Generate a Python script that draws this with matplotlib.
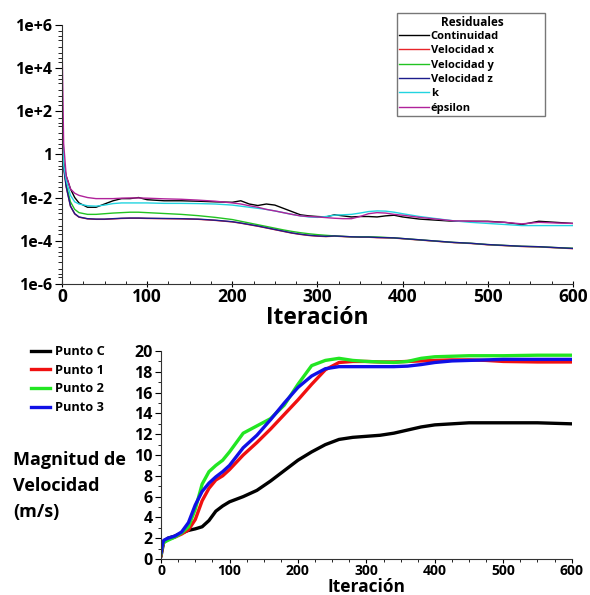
import numpy as np
import matplotlib
matplotlib.use("Agg")
import matplotlib.pyplot as plt
from matplotlib.patches import Rectangle
from matplotlib.ticker import FixedLocator, FixedFormatter, MultipleLocator, NullFormatter

plt.rcParams['font.family'] = ['Open Sans', 'DejaVu Sans']
plt.rcParams['font.weight'] = 'bold'

# ---- residuals (log10 of value) ----
res_iter = [0, 2, 5, 10, 15, 20, 30, 40, 50, 60, 70, 80, 90, 100, 120, 140, 160, 180,
            200, 210, 220, 230, 240, 250, 260, 270, 280, 290, 300, 310, 320, 330, 340,
            350, 360, 370, 380, 390, 400, 420, 440, 460, 480, 500, 520, 540, 560, 580, 600]

continuidad = [1.0, -0.4, -1.0, -1.6, -2.0, -2.25, -2.45, -2.45, -2.3, -2.15, -2.05, -2.05, -2.0,
               -2.1, -2.15, -2.15, -2.17, -2.2, -2.22, -2.15, -2.3, -2.37, -2.3, -2.35, -2.5,
               -2.65, -2.8, -2.85, -2.88, -2.9, -2.8, -2.85, -2.9, -2.88, -2.88, -2.9, -2.85,
               -2.82, -2.9, -3.0, -3.05, -3.1, -3.1, -3.1, -3.15, -3.25, -3.1, -3.15, -3.2]
velocidad_x = [1.5, -0.6, -1.5, -2.4, -2.76, -2.91, -2.99, -3.01, -3.01, -2.99, -2.97, -2.96,
               -2.96, -2.97, -2.98, -2.99, -3.01, -3.06, -3.13, -3.19, -3.26, -3.33, -3.41,
               -3.49, -3.57, -3.65, -3.71, -3.76, -3.79, -3.81, -3.79, -3.81, -3.83, -3.84,
               -3.84, -3.86, -3.87, -3.88, -3.91, -3.97, -4.03, -4.09, -4.13, -4.19, -4.23,
               -4.27, -4.29, -4.33, -4.37]
velocidad_y = [0.6, -0.5, -1.4, -2.2, -2.55, -2.7, -2.78, -2.78, -2.75, -2.72, -2.7, -2.68,
               -2.68, -2.7, -2.74, -2.78, -2.84, -2.92, -3.02, -3.1, -3.18, -3.26, -3.34,
               -3.42, -3.5, -3.57, -3.63, -3.68, -3.72, -3.75, -3.78, -3.8, -3.82, -3.82,
               -3.82, -3.83, -3.85, -3.87, -3.9, -3.96, -4.02, -4.08, -4.12, -4.18, -4.22,
               -4.26, -4.28, -4.32, -4.35]
velocidad_z = [0.5, -0.6, -1.5, -2.4, -2.75, -2.9, -2.98, -3.0, -3.0, -2.98, -2.96, -2.95,
               -2.95, -2.96, -2.97, -2.98, -3.0, -3.05, -3.12, -3.18, -3.25, -3.32, -3.4,
               -3.48, -3.56, -3.64, -3.7, -3.75, -3.78, -3.8, -3.78, -3.8, -3.82, -3.83,
               -3.83, -3.85, -3.86, -3.87, -3.9, -3.96, -4.02, -4.08, -4.12, -4.18, -4.22,
               -4.26, -4.28, -4.32, -4.36]
k_res = [2.0, -0.5, -1.2, -1.9, -2.2, -2.3, -2.38, -2.4, -2.35, -2.28, -2.25, -2.25, -2.25,
         -2.25, -2.27, -2.27, -2.28, -2.3, -2.35, -2.4, -2.45, -2.5, -2.55, -2.62, -2.7,
         -2.78, -2.85, -2.9, -2.92, -2.88, -2.82, -2.8, -2.78, -2.72, -2.65, -2.62, -2.63,
         -2.68, -2.75, -2.88, -2.98, -3.08, -3.15, -3.2, -3.25, -3.3, -3.3, -3.3, -3.3]
epsilon = [5.4, 0.5, -1.0, -1.6, -1.8, -1.9, -2.0, -2.05, -2.05, -2.05, -2.03, -2.02, -2.02,
           -2.03, -2.06, -2.08, -2.12, -2.17, -2.25, -2.3, -2.38, -2.45, -2.55, -2.62, -2.7,
           -2.78, -2.85, -2.88, -2.9, -2.93, -2.96, -2.98, -2.98, -2.88, -2.75, -2.7, -2.72,
           -2.78, -2.82, -2.92, -3.0, -3.08, -3.1, -3.12, -3.15, -3.22, -3.15, -3.18, -3.2]

res_names = ['Continuidad', 'Velocidad x', 'Velocidad y', 'Velocidad z', 'k', 'épsilon']
res_colors = ['#000000', '#e8242a', '#22c322', '#1c1c8c', '#22d4e0', '#b0229a']

log_ticks = [1e-6, 1e-4, 1e-2, 1, 1e2, 1e4, 1e6]
log_labels = ['1e-6', '1e-4', '1e-2', '1', '1e+2', '1e+4', '1e+6']

# ---- velocity magnitude ----
vel_iter = [0, 2, 4, 10, 20, 30, 40, 50, 60, 70, 80, 90, 100, 120, 140, 160, 180, 200, 220,
            240, 260, 280, 300, 320, 340, 360, 380, 400, 425, 450, 475, 500, 550, 600]
punto_c = [0.3, 1.0, 1.7, 2.0, 2.2, 2.5, 2.75, 2.9, 3.1, 3.7, 4.6, 5.1, 5.5, 6.0, 6.6, 7.5,
           8.5, 9.5, 10.3, 11.0, 11.5, 11.7, 11.8, 11.9, 12.1, 12.4, 12.7, 12.9, 13.0, 13.1,
           13.1, 13.1, 13.1, 13.0]
punto_1 = [0.4, 1.2, 1.6, 1.9, 2.1, 2.4, 2.8, 3.8, 5.6, 6.8, 7.6, 8.0, 8.6, 10.0, 11.2, 12.5,
           13.9, 15.3, 16.8, 18.2, 18.9, 19.0, 19.0, 18.95, 18.95, 19.0, 19.05, 19.1, 19.15,
           19.15, 19.1, 19.0, 18.95, 18.95]
punto_2 = [0.5, 1.3, 1.6, 1.8, 2.1, 2.5, 3.1, 4.8, 7.2, 8.4, 9.0, 9.5, 10.3, 12.1, 12.8, 13.5,
           14.8, 16.8, 18.6, 19.1, 19.3, 19.1, 19.0, 18.95, 18.9, 19.0, 19.3, 19.45, 19.5,
           19.55, 19.55, 19.55, 19.6, 19.6]
punto_3 = [0.6, 1.4, 1.8, 2.0, 2.2, 2.6, 3.5, 5.2, 6.5, 7.3, 7.9, 8.4, 9.0, 10.7, 11.9, 13.4,
           15.0, 16.5, 17.6, 18.3, 18.5, 18.5, 18.5, 18.5, 18.5, 18.55, 18.7, 18.9, 19.05,
           19.1, 19.15, 19.2, 19.2, 19.2]
vel_names = ['Punto C', 'Punto 1', 'Punto 2', 'Punto 3']
vel_colors = ['#000000', '#f01010', '#22e622', '#1010e6']

W, H = 590, 595
fig = plt.figure(figsize=(W / 100, H / 100), dpi=100)

# top: residuals
ax1 = fig.add_axes([0.105, 0.523, 0.866, 0.435])
for vals, name, c in zip([continuidad, velocidad_x, velocidad_y, velocidad_z, k_res, epsilon],
                         res_names, res_colors):
    ax1.plot(res_iter, 10.0 ** np.array(vals), color=c, lw=1.0, label=name)
ax1.set_yscale('log')
ax1.set_ylim(1e-6, 1e6)
ax1.set_xlim(0, 600)
ax1.yaxis.set_major_locator(FixedLocator(log_ticks))
ax1.yaxis.set_major_formatter(FixedFormatter(log_labels))
ax1.yaxis.set_minor_locator(FixedLocator([10.0 ** e for e in range(-5, 6, 2)] +
                                         [m * 10.0 ** e for e in range(-6, 6) for m in (2, 3, 5)]))
ax1.yaxis.set_minor_formatter(NullFormatter())
ax1.xaxis.set_major_locator(MultipleLocator(100))
ax1.xaxis.set_minor_locator(MultipleLocator(25))
ax1.tick_params(axis='y', which='major', labelsize=11.5, length=5, width=0.8, pad=2)
ax1.tick_params(axis='y', which='minor', length=3, width=0.6)
ax1.tick_params(axis='x', which='major', labelsize=12.5, length=4, width=0.8, direction='inout', pad=1)
ax1.tick_params(axis='x', which='minor', length=2, width=0.6, direction='in')
ax1.set_xlabel('Iteración', fontsize=16.5, fontweight='bold', labelpad=0)
for s in ['top', 'right']:
    ax1.spines[s].set_visible(False)
for s in ['left', 'bottom']:
    ax1.spines[s].set_color('#333333')

# residuals legend: frame and title drawn separately, box is wider than entries
ax1.add_patch(Rectangle((397 / W, 1 - 116 / H), 148 / W, 103 / H, transform=fig.transFigure,
                        facecolor='white', edgecolor='#777777', lw=1.0, zorder=3,
                        clip_on=False))
ax1.text(472 / W, 1 - 23 / H, 'Residuales', transform=fig.transFigure, fontsize=8.5,
         fontweight='bold', ha='center', va='center', zorder=4)
leg1 = ax1.legend(loc='upper left', bbox_to_anchor=(399 / W, 1 - 31 / H),
                  bbox_transform=fig.transFigure, fontsize=8, frameon=False,
                  handlelength=2.7, handletextpad=0.15, labelspacing=0.3,
                  borderpad=0, borderaxespad=0)
leg1.set_zorder(5)
for t in leg1.get_texts():
    t.set_fontweight('bold')

# bottom: velocity magnitude
ax2 = fig.add_axes([0.273, 0.0605, 0.696, 0.3495])
for vals, name, c in zip([punto_c, punto_1, punto_2, punto_3], vel_names, vel_colors):
    ax2.plot(vel_iter, vals, color=c, lw=2.4, label=name)
ax2.set_xlim(0, 600)
ax2.set_ylim(0, 20)
ax2.yaxis.set_major_locator(MultipleLocator(2))
ax2.yaxis.set_minor_locator(MultipleLocator(1))
ax2.xaxis.set_major_locator(MultipleLocator(100))
ax2.xaxis.set_minor_locator(MultipleLocator(25))
ax2.tick_params(axis='y', which='major', labelsize=11.5, length=4, width=0.8, pad=2)
ax2.tick_params(axis='y', which='minor', length=2, width=0.6)
ax2.tick_params(axis='x', which='major', labelsize=10, length=3, width=0.8, pad=0.5)
ax2.tick_params(axis='x', which='minor', length=2, width=0.6)
ax2.set_xlabel('Iteración', fontsize=12.5, fontweight='bold', labelpad=0)
for s in ['top', 'right']:
    ax2.spines[s].set_visible(False)
for s in ['left', 'bottom']:
    ax2.spines[s].set_color('#333333')
leg2 = ax2.legend(loc='upper left', bbox_to_anchor=(31 / W, 1 - 345 / H),
                  bbox_transform=fig.transFigure, fontsize=9.2, frameon=False,
                  handlelength=1.5, handletextpad=0.4, labelspacing=0.45,
                  borderpad=0, borderaxespad=0)
for t in leg2.get_texts():
    t.set_fontweight('bold')

fig.text(13 / W, 1 - 486 / H, 'Magnitud de\nVelocidad\n(m/s)', fontsize=13, fontweight='bold',
         ha='left', va='center', linespacing=1.55)

fig.savefig('out.png', dpi=100)
